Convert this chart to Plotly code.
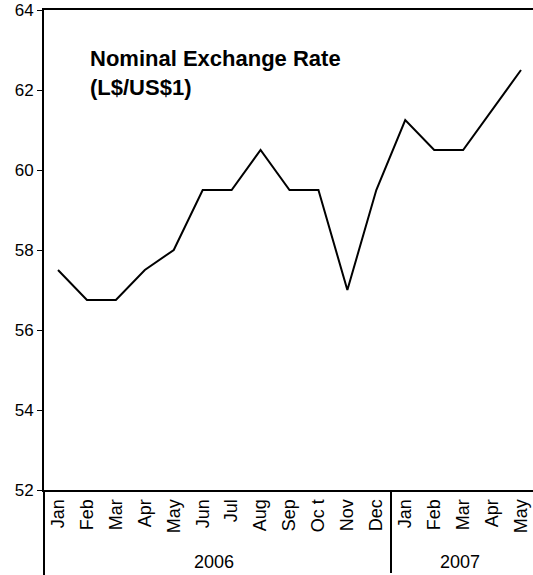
import plotly.graph_objects as go

years = ["2006"] * 12 + ["2007"] * 5
months = ["Jan", "Feb", "Mar", "Apr", "May", "Jun", "Jul", "Aug", "Sep", "Oc t", "Nov", "Dec",
          "Jan", "Feb", "Mar", "Apr", "May"]
rate = [57.5, 56.75, 56.75, 57.5, 58.0, 59.5, 59.5, 60.5, 59.5, 59.5, 57.0, 59.5,
        61.25, 60.5, 60.5, 61.5, 62.5]
y_ticks = [52, 54, 56, 58, 60, 62, 64]

fig = go.Figure()
fig.add_trace(go.Scatter(x=[years, months], y=rate, mode="lines",
                         line=dict(color="black", width=2), showlegend=False))

fig.update_layout(
    width=533, height=575,
    margin=dict(l=44, r=0, t=10, b=85),
    paper_bgcolor="white", plot_bgcolor="white",
    font=dict(family="Liberation Sans, Arial, sans-serif", color="black", size=18),
    xaxis=dict(type="multicategory", showline=True, linecolor="black", linewidth=2,
               mirror=True, ticks="", showgrid=False, tickangle=-90, automargin=False,
               showdividers=True, dividercolor="black", dividerwidth=2,
               tickfont=dict(size=18), range=[-0.484, 16.415]),
    yaxis=dict(range=[52, 64], tickvals=y_ticks, showline=True, linecolor="black",
               linewidth=2, ticks="outside", ticklen=5, tickwidth=1, tickcolor="black",
               showgrid=False, zeroline=False, tickfont=dict(size=17), automargin=False),
    annotations=[dict(text="<b>Nominal Exchange Rate<br>(L$/US$1)</b>", xref="paper", yref="paper",
                      x=(88 - 44) / 489, y=(490 - 44) / 480, xanchor="left", yanchor="top",
                      showarrow=False, align="left", font=dict(size=22))],
    shapes=[dict(type="line", xref="paper", yref="paper", x0=0, x1=0, y0=0, y1=-85 / 480,
                 line=dict(color="black", width=2))],
)

fig.write_html("out.html", config={"displayModeBar": False},
               post_script="document.body.style.margin='0';")
